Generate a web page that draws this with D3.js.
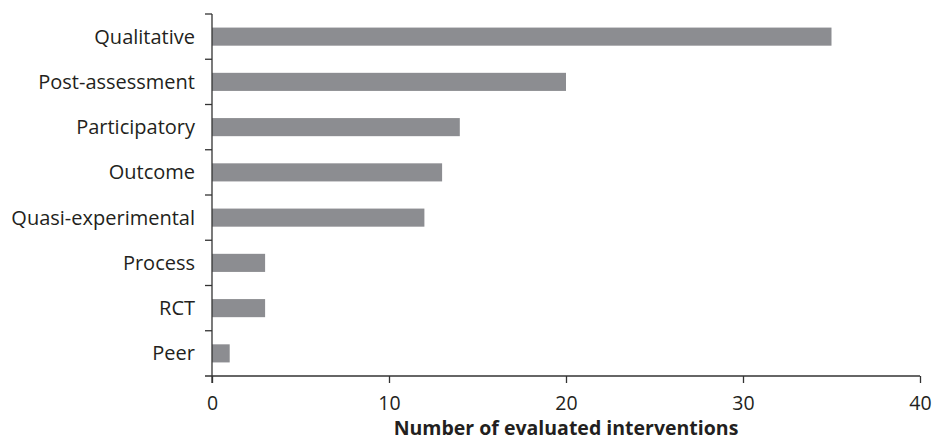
<!DOCTYPE html>
<html>
<head>
<meta charset="utf-8">
<script src="https://cdn.jsdelivr.net/npm/d3@7"></script>
<style>
  body { margin: 0; background: #fff; }
  svg { display: block; }
  text { font-family: "Open Sans", Lato, sans-serif; fill: #231f20; }
</style>
</head>
<body>
<svg id="chart" width="934" height="442"></svg>
<script>
const categories = ["Qualitative", "Post-assessment", "Participatory", "Outcome", "Quasi-experimental", "Process", "RCT", "Peer"];
const values = [35, 20, 14, 13, 12, 3, 3, 1];
const xTicks = [0, 10, 20, 30, 40];
const xTitle = "Number of evaluated interventions";

const svg = d3.select("#chart");
const margin = { left: 212, right: 14, top: 14, bottom: 66 };
const W = 934, H = 442;
const FONT = "'Open Sans', Lato, sans-serif";

const x = d3.scaleLinear().domain([0, 40]).range([margin.left, W - margin.right]);
const y = d3.scaleBand().domain(categories).range([margin.top, H - margin.bottom]).paddingInner(0.6).paddingOuter(0.3);

svg.append("g").selectAll("rect").data(categories).join("rect")
  .attr("x", x(0))
  .attr("y", d => y(d))
  .attr("width", (d, i) => x(values[i]) - x(0))
  .attr("height", y.bandwidth())
  .attr("fill", "#8c8d91");

// y axis with ticks at band boundaries
const yAxisG = svg.append("g");
const bounds = d3.range(categories.length + 1).map(i => margin.top + i * (H - margin.bottom - margin.top) / categories.length);
yAxisG.append("line").attr("x1", x(0)).attr("x2", x(0)).attr("y1", bounds[0]).attr("y2", bounds[bounds.length - 1] + 7)
  .attr("stroke", "#333").attr("stroke-width", 1.3);
yAxisG.selectAll("line.tk").data(bounds.slice(0, -1)).join("line").attr("class", "tk")
  .attr("x1", x(0) - 7).attr("x2", x(0)).attr("y1", d => d).attr("y2", d => d)
  .attr("stroke", "#333").attr("stroke-width", 1.3);
yAxisG.selectAll("text").data(categories).join("text")
  .attr("x", x(0) - 17)
  .attr("y", d => y(d) + y.bandwidth() / 2)
  .attr("dy", "0.35em")
  .attr("text-anchor", "end")
  .attr("font-size", 20)
  .text(d => d);

// x axis
const xAxisG = svg.append("g").attr("transform", `translate(0,${H - margin.bottom})`)
  .call(d3.axisBottom(x).tickValues(xTicks).tickSize(7).tickSizeOuter(0).tickPadding(13));
xAxisG.select(".domain").attr("d", `M${x(0) - 7},0H${x(40)}`).attr("stroke", "#333").attr("stroke-width", 1.3);
xAxisG.selectAll(".tick line").attr("stroke", "#333").attr("stroke-width", 1.3);
xAxisG.selectAll(".tick text").attr("font-size", 19.5).attr("font-family", FONT).attr("fill", "#231f20");

svg.append("text")
  .attr("x", (x(0) + x(40)) / 2)
  .attr("y", 435)
  .attr("text-anchor", "middle")
  .attr("font-size", 19.5)
  .attr("font-weight", 700)
  .text(xTitle);
</script>
</body>
</html>
